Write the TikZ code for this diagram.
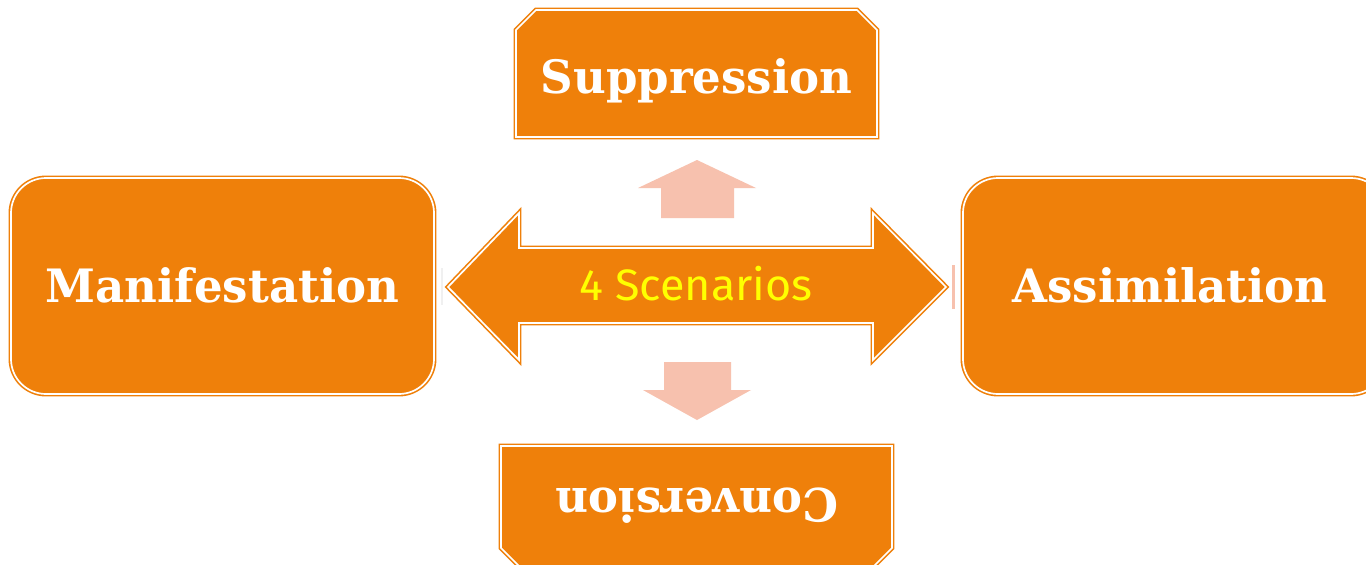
\documentclass[tikz,border=0pt]{standalone}
\usepackage{fontspec}
\newfontfamily\labelfont{DejaVu Serif}
\newfontfamily\tagfont{Fira Sans}
\definecolor{boxorange}{RGB}{239,128,10}
\definecolor{paleorange}{RGB}{247,193,174}
\definecolor{tagyellow}{RGB}{255,255,0}
\begin{document}
\begin{tikzpicture}[x=1pt,y=-1pt,
  shapeline/.style={fill=boxorange, draw=boxorange, double=white,
    double distance=1.7pt, line width=1.6pt, line join=miter},
  boxlabel/.style={text=white, inner sep=0pt, anchor=base, xscale=0.98,
    font=\labelfont\bfseries\fontsize{46}{50}\selectfont},
  taglabel/.style={text=tagyellow, inner sep=0pt, anchor=base, xscale=1.02,
    font=\tagfont\fontsize{44}{50}\selectfont},
  palearrow/.style={fill=paleorange, draw=none}]
  % canvas
  \fill[white] (0,0) rectangle (1366,565);
  \path[use as bounding box] (0,0) rectangle (1366,565);
  \clip (0,0) rectangle (1366,565);

  % top box with cut upper corners
  \path[shapeline] (516,137) -- (516,30) -- (536,10) -- (857,10)
    -- (877,30) -- (877,137) -- cycle;
  % bottom box with cut lower corners
  \path[shapeline] (501,446) -- (892,446) -- (892,548) -- (872,568)
    -- (521,568) -- (501,548) -- cycle;
  % side boxes
  \path[shapeline, rounded corners=35pt] (11,178) rectangle (434,394);
  \path[shapeline, rounded corners=35pt] (963,178) rectangle (1386,394);

  % central double arrow
  \path[shapeline] (448,287) -- (519,213) -- (519,248) -- (873,248)
    -- (873,213) -- (946,287) -- (873,360) -- (873,323) -- (519,323)
    -- (519,360) -- cycle;

  % pale up and down arrows
  \path[palearrow] (697,160) -- (756,188) -- (734,188) -- (734,218)
    -- (661,218) -- (661,188) -- (638,188) -- cycle;
  \path[palearrow] (664,362) -- (731,362) -- (731,390) -- (751,390)
    -- (697,420) -- (643,390) -- (664,390) -- cycle;

  % faint marks beside the arrow tips
  \draw[gray!12, line width=1.5pt] (442,268) -- (442,305);
  \draw[paleorange, line width=2.5pt] (953.5,265) -- (953.5,309);

  % labels
  \node[boxlabel] (supp) at (696.5,93) {Suppression};
  \node[boxlabel, rotate=180] (conv) at (697,488) {Conversion};
  \node[boxlabel] (mani) at (222.5,302) {Manifestation};
  \node[boxlabel] (assi) at (1170,302) {Assimilation};
  \node[taglabel] (scen) at (696,300) {4 Scenarios};
\end{tikzpicture}
\end{document}
